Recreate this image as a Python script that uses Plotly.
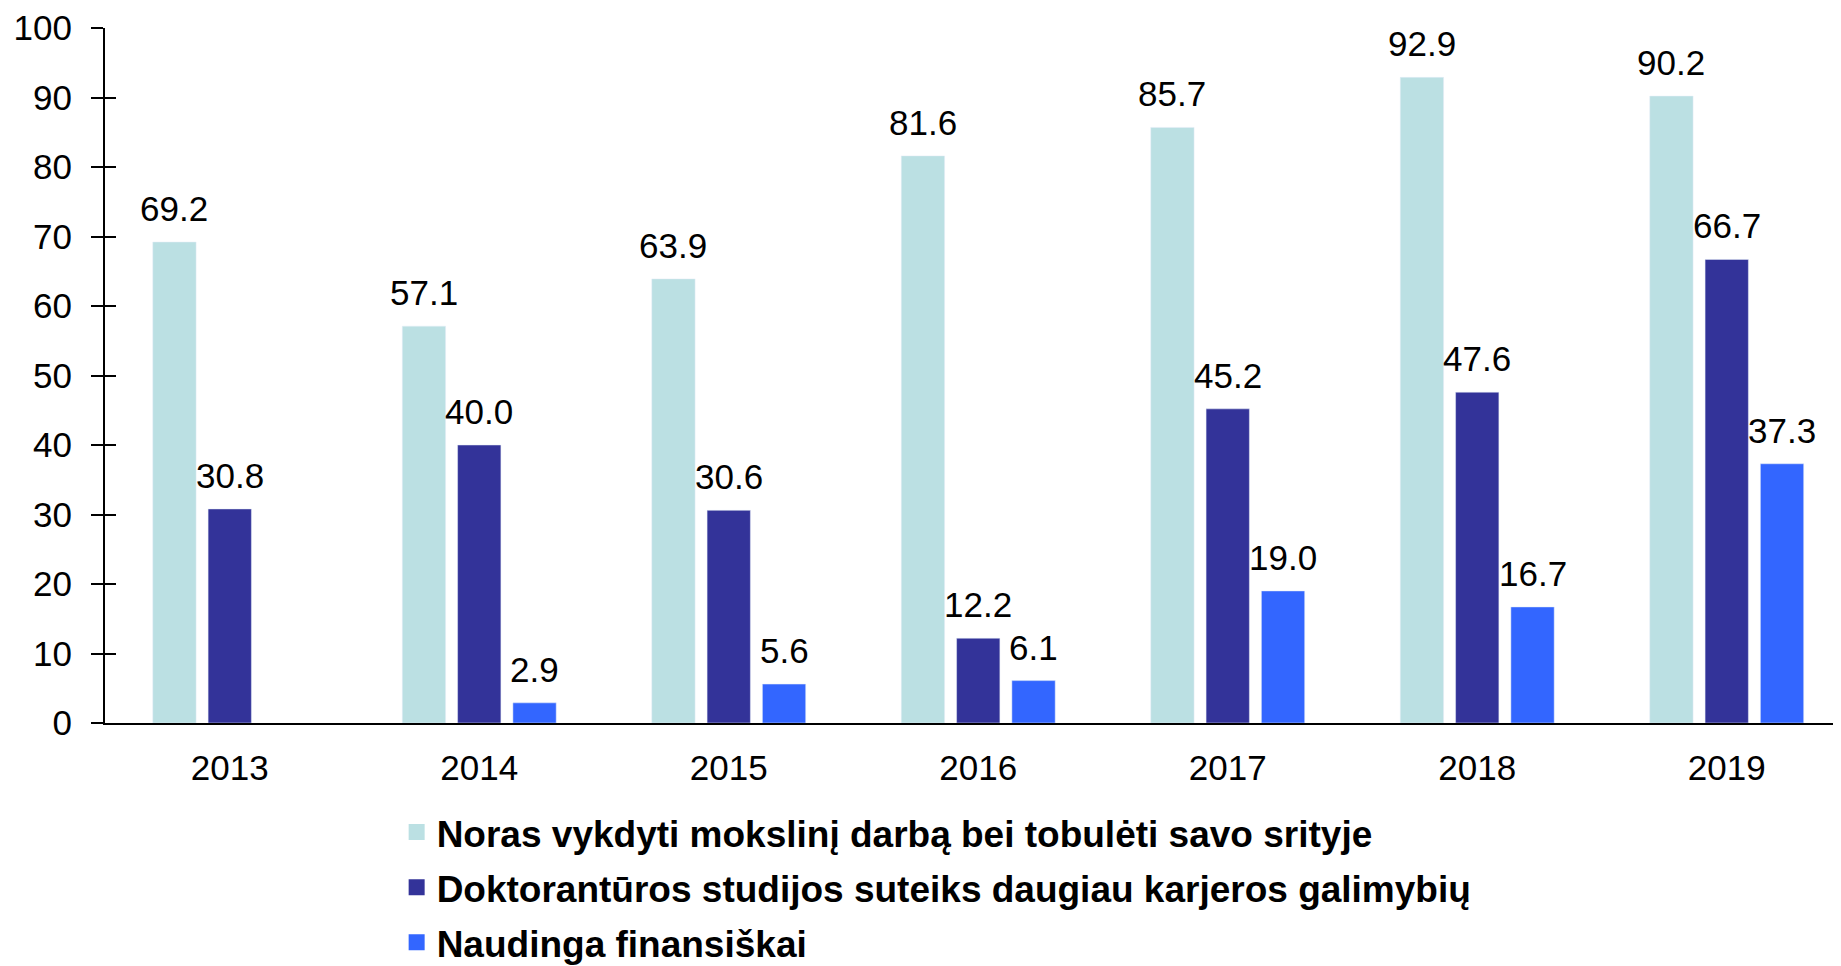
import plotly.graph_objects as go

years = ["2013", "2014", "2015", "2016", "2017", "2018", "2019"]
noras = [69.2, 57.1, 63.9, 81.6, 85.7, 92.9, 90.2]
doktor = [30.8, 40.0, 30.6, 12.2, 45.2, 47.6, 66.7]
naud = [None, 2.9, 5.6, 6.1, 19.0, 16.7, 37.3]

names = [
    "Noras vykdyti mokslinį darbą bei tobulėti savo srityje",
    "Doktorantūros studijos suteiks daugiau karjeros galimybių",
    "Naudinga finansiškai",
]
colors = ["#BBE0E3", "#333399", "#3366FF"]
series = [noras, doktor, naud]

FONT = "Liberation Sans, Arial, sans-serif"
BARGAP = 0.335
NSER = len(series)

fig = go.Figure()
for i, (vals, name, col) in enumerate(zip(series, names, colors)):
    fig.add_trace(go.Bar(
        x=years, y=vals, name=name, marker_color=col,
        showlegend=False, cliponaxis=False,
    ))
# value labels above bars, placed at each bar's slot in its group
slot = (1 - BARGAP) / NSER
annotations = []
for j, vals in enumerate(series):
    for i, v in enumerate(vals):
        if v is None:
            continue
        annotations.append(dict(
            x=i + (j - (NSER - 1) / 2) * slot, y=v, xref="x", yref="y",
            text=f"{v:.1f}", showarrow=False, yanchor="bottom", xanchor="center",
            yshift=12, font=dict(size=35, color="black", family=FONT),
        ))
# legend entries with larger square symbols
for i, (name, col) in enumerate(zip(names, colors)):
    fig.add_trace(go.Scatter(
        x=[None], y=[None], mode="markers", name=name,
        marker=dict(symbol="square", size=19, color=col),
        legendgroup=f"g{i}", showlegend=True,
    ))
# helper trace for inner ticks axis
fig.add_trace(go.Scatter(x=[None], y=[None], yaxis="y2", showlegend=False, hoverinfo="skip"))

fig.update_layout(
    width=1833, height=958,
    margin=dict(l=96.5, r=0, t=20.3, b=242.7, autoexpand=False),
    paper_bgcolor="white", plot_bgcolor="white",
    font=dict(family=FONT, size=35, color="black"),
    barmode="group", bargap=BARGAP, bargroupgap=0.217,
    annotations=annotations,
    showlegend=True,
    legend=dict(
        orientation="v", x=0.168, xanchor="left", y=-0.113, yanchor="top",
        font=dict(size=37, family=FONT, color="black", weight="bold"),
        tracegroupgap=4, bgcolor="rgba(0,0,0,0)",
    ),
    xaxis=dict(
        type="category", range=[-0.5, 6.458], showgrid=False, zeroline=False,
        showline=True, linecolor="black", linewidth=2, ticks="",
        tickfont=dict(size=35), ticklabelstandoff=13, automargin=False,
    ),
    yaxis=dict(
        range=[0, 100], dtick=10, showgrid=False, zeroline=False,
        showline=True, linecolor="black", linewidth=2,
        ticks="outside", ticklen=12, tickwidth=2, tickcolor="black",
        tickfont=dict(size=35), ticklabelstandoff=12, automargin=False,
    ),
    yaxis2=dict(
        range=[0, 100], dtick=10, overlaying="y", side="left", anchor="x",
        showgrid=False, zeroline=False, showline=False,
        ticks="inside", ticklen=11, tickwidth=2, tickcolor="black",
        showticklabels=False, automargin=False,
    ),
)

fig.write_html("out.html")
